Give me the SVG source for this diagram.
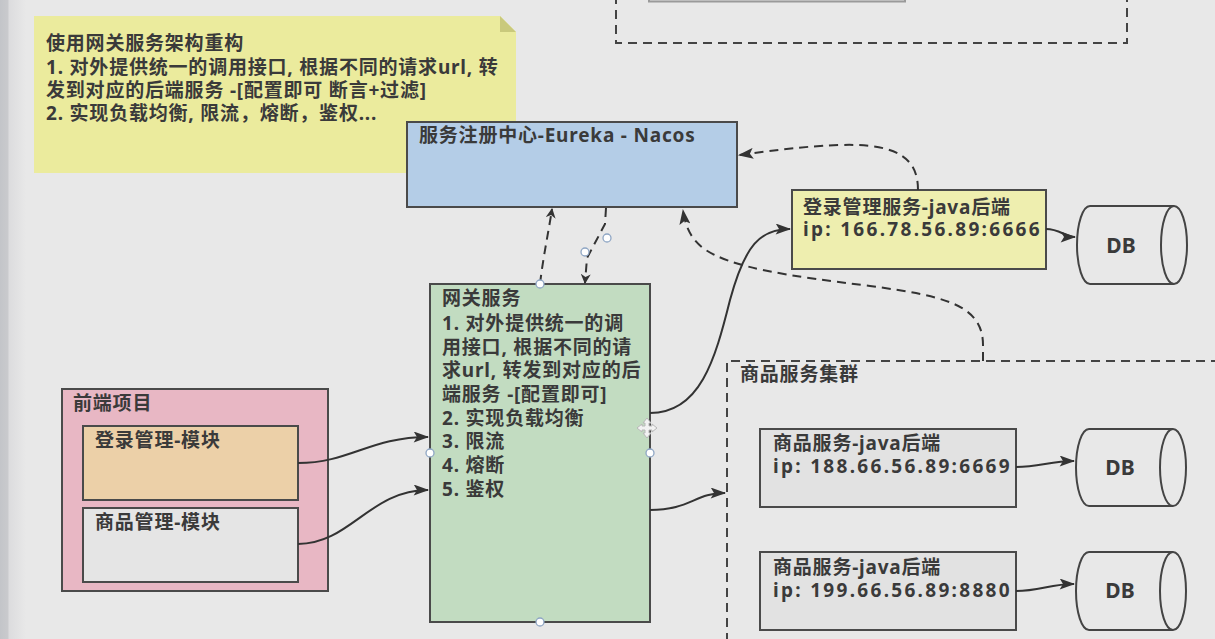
<svg xmlns="http://www.w3.org/2000/svg" width="1215" height="639" viewBox="0 0 1215 639">
<defs>
<linearGradient id="edge" x1="0" y1="0" x2="1" y2="0">
<stop offset="0" stop-color="#c3c5c9"/>
<stop offset="0.3" stop-color="#c9cacd"/>
<stop offset="0.35" stop-color="#dcdcde"/>
<stop offset="1" stop-color="#e8e8e8"/>
</linearGradient>
<marker id="arr" viewBox="0 0 10 10" refX="9" refY="5" markerWidth="10" markerHeight="10" markerUnits="userSpaceOnUse" orient="auto">
<path d="M0,0 L10,5 L0,10 L3,5 Z" fill="#333"/>
</marker>
<marker id="arrL" viewBox="0 0 14 10" refX="13" refY="5" markerWidth="16" markerHeight="11" markerUnits="userSpaceOnUse" orient="auto">
<path d="M0,0 L14,5 L0,10 L3,5 Z" fill="#333"/>
</marker>
</defs>
<style>
text{font-family:"Noto Sans","Noto Sans CJK SC",sans-serif;font-size:19px;font-weight:700;fill:#3a3a3a;letter-spacing:0.8px}
text.ip{letter-spacing:2.3px}
.box{stroke:#4a4a4a;stroke-width:2}
.conn{fill:none;stroke:#333;stroke-width:2}
.dash{stroke-dasharray:9,6}
.db{fill:#e8e8e8;stroke:#444;stroke-width:2}
.handle{fill:#fff;stroke:#8fa6c4;stroke-width:1.3}
.dbt{font-size:21px;text-anchor:middle;letter-spacing:0}
</style>
<rect x="0" y="0" width="1215" height="639" fill="#e8e8e8"/>
<rect x="0" y="0" width="26" height="639" fill="url(#edge)"/>

<g id="top-group">
<rect x="649" y="-10" width="256" height="11.5" fill="#e2e2e2" stroke="#9a9a9a" stroke-width="2"/>
<path d="M616,-5 L616,43 L1127,43 L1127,-5" fill="none" stroke="#444" stroke-width="2" stroke-dasharray="9,6"/>
</g>

<g id="note">
<path d="M34,16 L500,16 L516,32 L516,173 L34,173 Z" fill="#ebeb9d"/>
<path d="M500,16 L516,32 L500,32 Z" fill="#c9c97c"/>
<text x="46" y="50">使用网关服务架构重构</text>
<text x="46" y="74">1. 对外提供统一的调用接口, 根据不同的请求url, 转</text>
<text x="46" y="97">发到对应的后端服务 -[配置即可 断言+过滤]</text>
<text x="46" y="120">2. 实现负载均衡, 限流，熔断，鉴权...</text>
</g>

<g id="registry">
<rect class="box" x="407" y="122" width="330" height="85" fill="#b4cde7"/>
<text x="419" y="142">服务注册中心-Eureka - Nacos</text>
</g>

<g id="gateway">
<rect class="box" x="430" y="284" width="220" height="338" fill="#c2dcc1"/>
<text x="442" y="305">网关服务</text>
<text x="442" y="330">1. 对外提供统一的调</text>
<text x="442" y="354">用接口, 根据不同的请</text>
<text x="442" y="377">求url, 转发到对应的后</text>
<text x="442" y="401">端服务 -[配置即可]</text>
<text x="442" y="425">2. 实现负载均衡</text>
<text x="442" y="448">3. 限流</text>
<text x="442" y="472">4. 熔断</text>
<text x="442" y="496">5. 鉴权</text>
</g>

<g id="frontend">
<rect class="box" x="62" y="389" width="266" height="202" fill="#e8b7c4"/>
<text x="73" y="410">前端项目</text>
</g>
<g id="login-module">
<rect class="box" x="83" y="426" width="215" height="74" fill="#ecd0a8"/>
<text x="95" y="447">登录管理-模块</text>
</g>
<g id="goods-module">
<rect class="box" x="83" y="508" width="215" height="74" fill="#e5e5e5"/>
<text x="95" y="529">商品管理-模块</text>
</g>

<g id="login-service">
<rect class="box" x="792" y="190" width="254" height="79" fill="#eeeeaf"/>
<text x="803" y="214">登录管理服务-java后端</text>
<text class="ip" x="803" y="236">ip: 166.78.56.89:6666</text>
</g>
<g id="db1">
<path class="db" d="M1090,206 L1174,206 A13,39 0 0 1 1174,284 L1090,284 A13,39 0 0 1 1090,206 Z"/>
<path d="M1174,206 A13,39 0 0 0 1174,284" fill="none" stroke="#444" stroke-width="2"/>
<text class="dbt" x="1121" y="253">DB</text>
</g>

<g id="goods-cluster">
<path d="M1220,361 L727,361 L727,645" fill="none" stroke="#444" stroke-width="2" stroke-dasharray="9,6"/>
<text x="740" y="381">商品服务集群</text>
</g>
<g id="goods-service-1">
<rect class="box" x="760" y="429" width="256" height="78" fill="#e2e2e2"/>
<text x="773" y="450">商品服务-java后端</text>
<text class="ip" x="773" y="473">ip: 188.66.56.89:6669</text>
</g>
<g id="db2">
<path class="db" d="M1089,429 L1173,429 A13,38.5 0 0 1 1173,506 L1089,506 A13,38.5 0 0 1 1089,429 Z"/>
<path d="M1173,429 A13,38.5 0 0 0 1173,506" fill="none" stroke="#444" stroke-width="2"/>
<text class="dbt" x="1120" y="475">DB</text>
</g>
<g id="goods-service-2">
<rect class="box" x="760" y="552" width="256" height="78" fill="#e2e2e2"/>
<text x="773" y="574">商品服务-java后端</text>
<text class="ip" x="773" y="597">ip: 199.66.56.89:8880</text>
</g>
<g id="db3">
<path class="db" d="M1089,552 L1173,552 A13,39 0 0 1 1173,630 L1089,630 A13,39 0 0 1 1089,552 Z"/>
<path d="M1173,552 A13,39 0 0 0 1173,630" fill="none" stroke="#444" stroke-width="2"/>
<text class="dbt" x="1120" y="598">DB</text>
</g>

<g id="connectors">
<path class="conn" d="M298,463 C350,463 370,437 428,437" marker-end="url(#arrL)"/>
<path class="conn" d="M298,544 C350,544 370,490 428,490" marker-end="url(#arrL)"/>
<path class="conn dash" d="M540,284 C543,258 548,235 552,209" marker-end="url(#arr)"/>
<path class="conn dash" d="M606,208 L605,224 L587,258 L585,283" marker-end="url(#arr)"/>
<path class="conn" d="M650,413 C700,413 715,360 730,300 C745,245 760,229 790,229" marker-end="url(#arrL)"/>
<path class="conn" d="M650,510 C690,510 695,493 725,493" marker-end="url(#arrL)"/>
<path class="conn" d="M1046,229 C1060,229 1065,237 1075,237" marker-end="url(#arrL)"/>
<path class="conn" d="M1016,467 C1040,467 1050,461 1074,461" marker-end="url(#arrL)"/>
<path class="conn" d="M1016,591 C1040,591 1050,584 1074,584" marker-end="url(#arrL)"/>
<path class="conn dash" d="M918,190 C918,160 900,143 840,145 C790,147 765,152 739,155" marker-end="url(#arrL)"/>
<path class="conn dash" d="M983,361 L983,345 C983,305 945,296 870,286 C790,276 730,268 703,248 C690,238 685,225 683,210" marker-end="url(#arrL)"/>
</g>

<g id="handles">
<circle class="handle" cx="540" cy="284" r="4"/>
<circle class="handle" cx="430" cy="453" r="4"/>
<circle class="handle" cx="650" cy="453" r="4"/>
<circle class="handle" cx="540" cy="622" r="4"/>
<circle class="handle" cx="607" cy="238" r="4"/>
<circle class="handle" cx="585" cy="252" r="4"/>
<path d="M647,418 L651,423 L649,423 L649,426 L652,426 L652,424 L657,428 L652,432 L652,430 L649,430 L649,433 L651,433 L647,438 L643,433 L645,433 L645,430 L642,430 L642,432 L637,428 L642,424 L642,426 L645,426 L645,423 L643,423 Z" fill="#f2f2f2" stroke="#b8b8b8" stroke-width="1"/>
</g>
</svg>
